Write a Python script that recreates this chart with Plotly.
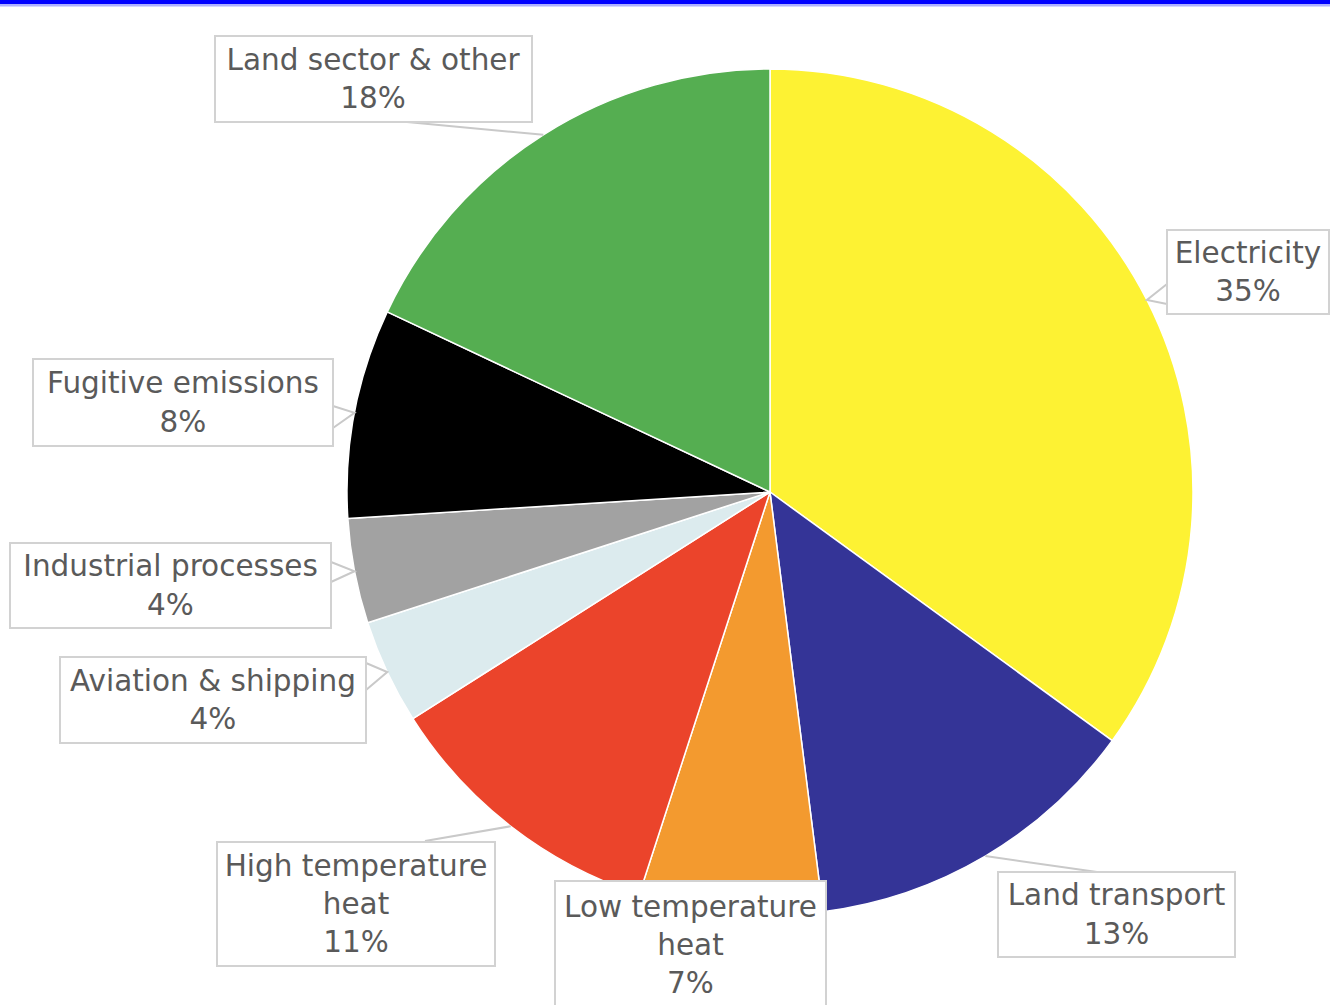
import math
import plotly.graph_objects as go

# ---- data ----
categories = ["Electricity", "Land transport", "Low temperature heat", "High temperature heat",
              "Aviation & shipping", "Industrial processes", "Fugitive emissions", "Land sector & other"]
values = [35, 13, 7, 11, 4, 4, 8, 18]
label_texts = ["Electricity", "Land transport", "Low temperature<br>heat", "High temperature<br>heat",
               "Aviation & shipping", "Industrial processes", "Fugitive emissions", "Land sector & other"]
colors = ["#FDF233", "#343497", "#F39A2F", "#EB442B", "#DCEBEE", "#A2A2A2", "#000000", "#55AE51"]

W, H = 1330, 1005
CX, CY, R = 770, 492, 423

def px(x):
    return x / W

def py(y):
    return 1 - y / H

fig = go.Figure()
fig.add_trace(go.Pie(
    labels=categories, values=values, sort=False, direction="clockwise", rotation=0,
    marker=dict(colors=colors, line=dict(color="white", width=1.5)),
    textinfo="none", showlegend=False, hoverinfo="label+percent",
    domain=dict(x=[px(CX - R), px(CX + R)], y=[py(CY + R), py(CY - R)]),
))

# label boxes: centre x, centre y, width, height (pixels)
boxes = [
    (1248, 272, 162, 84),
    (1116, 914, 237, 85),
    (690, 945, 271, 128),
    (356, 904, 278, 124),
    (213, 700, 306, 86),
    (170, 585, 321, 85),
    (183, 402, 300, 87),
    (373, 79, 317, 86),
]
# leader geometry: ("notch", side_x, y1, y2) or ("line", x, y) or None
leaders = [
    ("notch", 1167, 284, 304),
    ("line", 1097, 872),
    None,
    ("line", 425, 841),
    ("notch", 366, 663, 690),
    ("notch", 331, 562, 582),
    ("notch", 333, 406, 428),
    ("line", 407, 122),
]

total = sum(values)
cum = 0
shapes = []
annotations = []
for i, v in enumerate(values):
    frac = (cum + v / 2) / total
    cum += v
    ang = 2 * math.pi * frac
    ax = CX + R * math.sin(ang)
    ay = CY - R * math.cos(ang)
    ld = leaders[i]
    if ld is not None:
        if ld[0] == "notch":
            _, sx, y1, y2 = ld
            path = f"M {px(sx)},{py(y1)} L {px(ax)},{py(ay)} L {px(sx)},{py(y2)}"
        else:
            _, lx, ly = ld
            path = f"M {px(lx)},{py(ly)} L {px(ax)},{py(ay)}"
        shapes.append(dict(type="path", xref="paper", yref="paper", path=path,
                           line=dict(color="#c9c9c9", width=2)))
    bx, by, bw, bh = boxes[i]
    annotations.append(dict(
        x=px(bx), y=py(by), xref="paper", yref="paper", xanchor="center", yanchor="middle",
        text=f"{label_texts[i]}<br>{v}%", showarrow=False, align="center",
        width=bw - 4, height=bh - 4, borderpad=1, bordercolor="#d2d2d2", borderwidth=2,
        bgcolor="white", font=dict(family="DejaVu Sans", size=29.5, color="#5a5a5a"),
    ))

# top blue band
shapes.append(dict(type="rect", xref="paper", yref="paper", x0=0, x1=1, y0=py(6.5), y1=py(4),
                   fillcolor="#aeb0ff", line=dict(width=0), layer="above"))
shapes.append(dict(type="rect", xref="paper", yref="paper", x0=0, x1=1, y0=py(4), y1=1,
                   fillcolor="#0000FF", line=dict(width=0), layer="above"))

fig.update_layout(
    width=W, height=H, margin=dict(l=0, r=0, t=0, b=0),
    paper_bgcolor="white", plot_bgcolor="white",
    shapes=shapes, annotations=annotations,
)

fig.write_html("out.html")
